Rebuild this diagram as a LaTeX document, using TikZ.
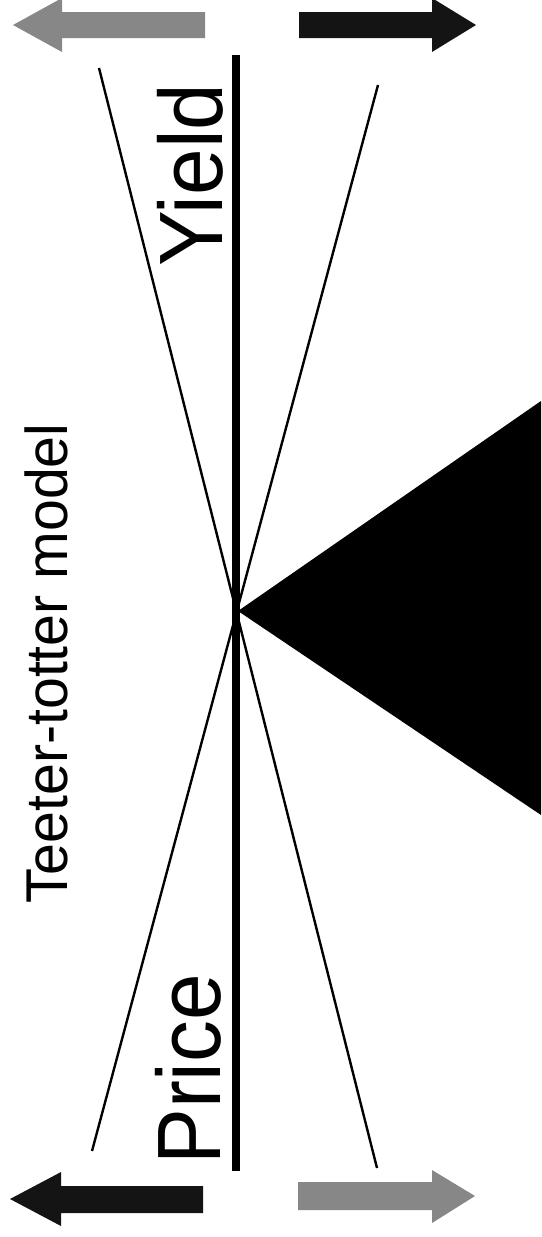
\documentclass[tikz,border=0pt]{standalone}
\usepackage{fontspec}
\setmainfont{Liberation Sans}
\definecolor{arrowgray}{rgb}{0.53,0.53,0.53}
\definecolor{arrowblack}{rgb}{0.08,0.08,0.08}
\tikzset{
  grayarrow/.style={fill=arrowgray},
  blackarrow/.style={fill=arrowblack},
  beam/.style={line width=7.5pt},
  thinline/.style={line width=2.4pt},
  bigtext/.style={rotate=90, anchor=base west, inner sep=0pt, font=\fontsize{90}{90}\selectfont},
  titletext/.style={rotate=90, anchor=base west, inner sep=0pt, font=\fontsize{59}{59}\selectfont}
}
\begin{document}
\begin{tikzpicture}[x=1pt,y=-1pt]
\useasboundingbox (0,0) rectangle (541,1237);
% beam
\coordinate (beamtop) at (236,55);
\coordinate (beambot) at (236,1171);
\draw[beam] (beamtop) -- (beambot);
% thin lines
\coordinate (a1) at (99,68);
\coordinate (a2) at (377,1168);
\coordinate (b1) at (378,85);
\coordinate (b2) at (92,1151);
\draw[thinline] (a1) -- (a2);
\draw[thinline] (b1) -- (b2);
% fulcrum
\coordinate (apex) at (238,611);
\fill (apex) -- (541,401) -- (541,815) -- cycle;
% texts
\node[bigtext] (yield) at (222,267) {\scalebox{0.93}[1]{Yield}};
\node[bigtext] (price) at (220,1165) {\scalebox{0.93}[1]{Price}};
\node[titletext] (title) at (67,904) {\scalebox{0.97}[1]{Teeter-totter model}};
% top arrows
\fill[grayarrow] (13,25) -- (62,-2) -- (62,12) -- (205,12) -- (205,38) -- (62,38) -- (62,52) -- cycle;
\fill[blackarrow] (476,25) -- (432,-2) -- (432,12) -- (299,12) -- (299,38) -- (432,38) -- (432,52) -- cycle;
% bottom arrows
\fill[blackarrow] (10,1199) -- (61,1172) -- (61,1186) -- (203,1186) -- (203,1213) -- (61,1213) -- (61,1226) -- cycle;
\fill[grayarrow] (475,1196) -- (432,1170) -- (432,1182) -- (298,1182) -- (298,1210) -- (432,1210) -- (432,1223) -- cycle;
\end{tikzpicture}
\end{document}
